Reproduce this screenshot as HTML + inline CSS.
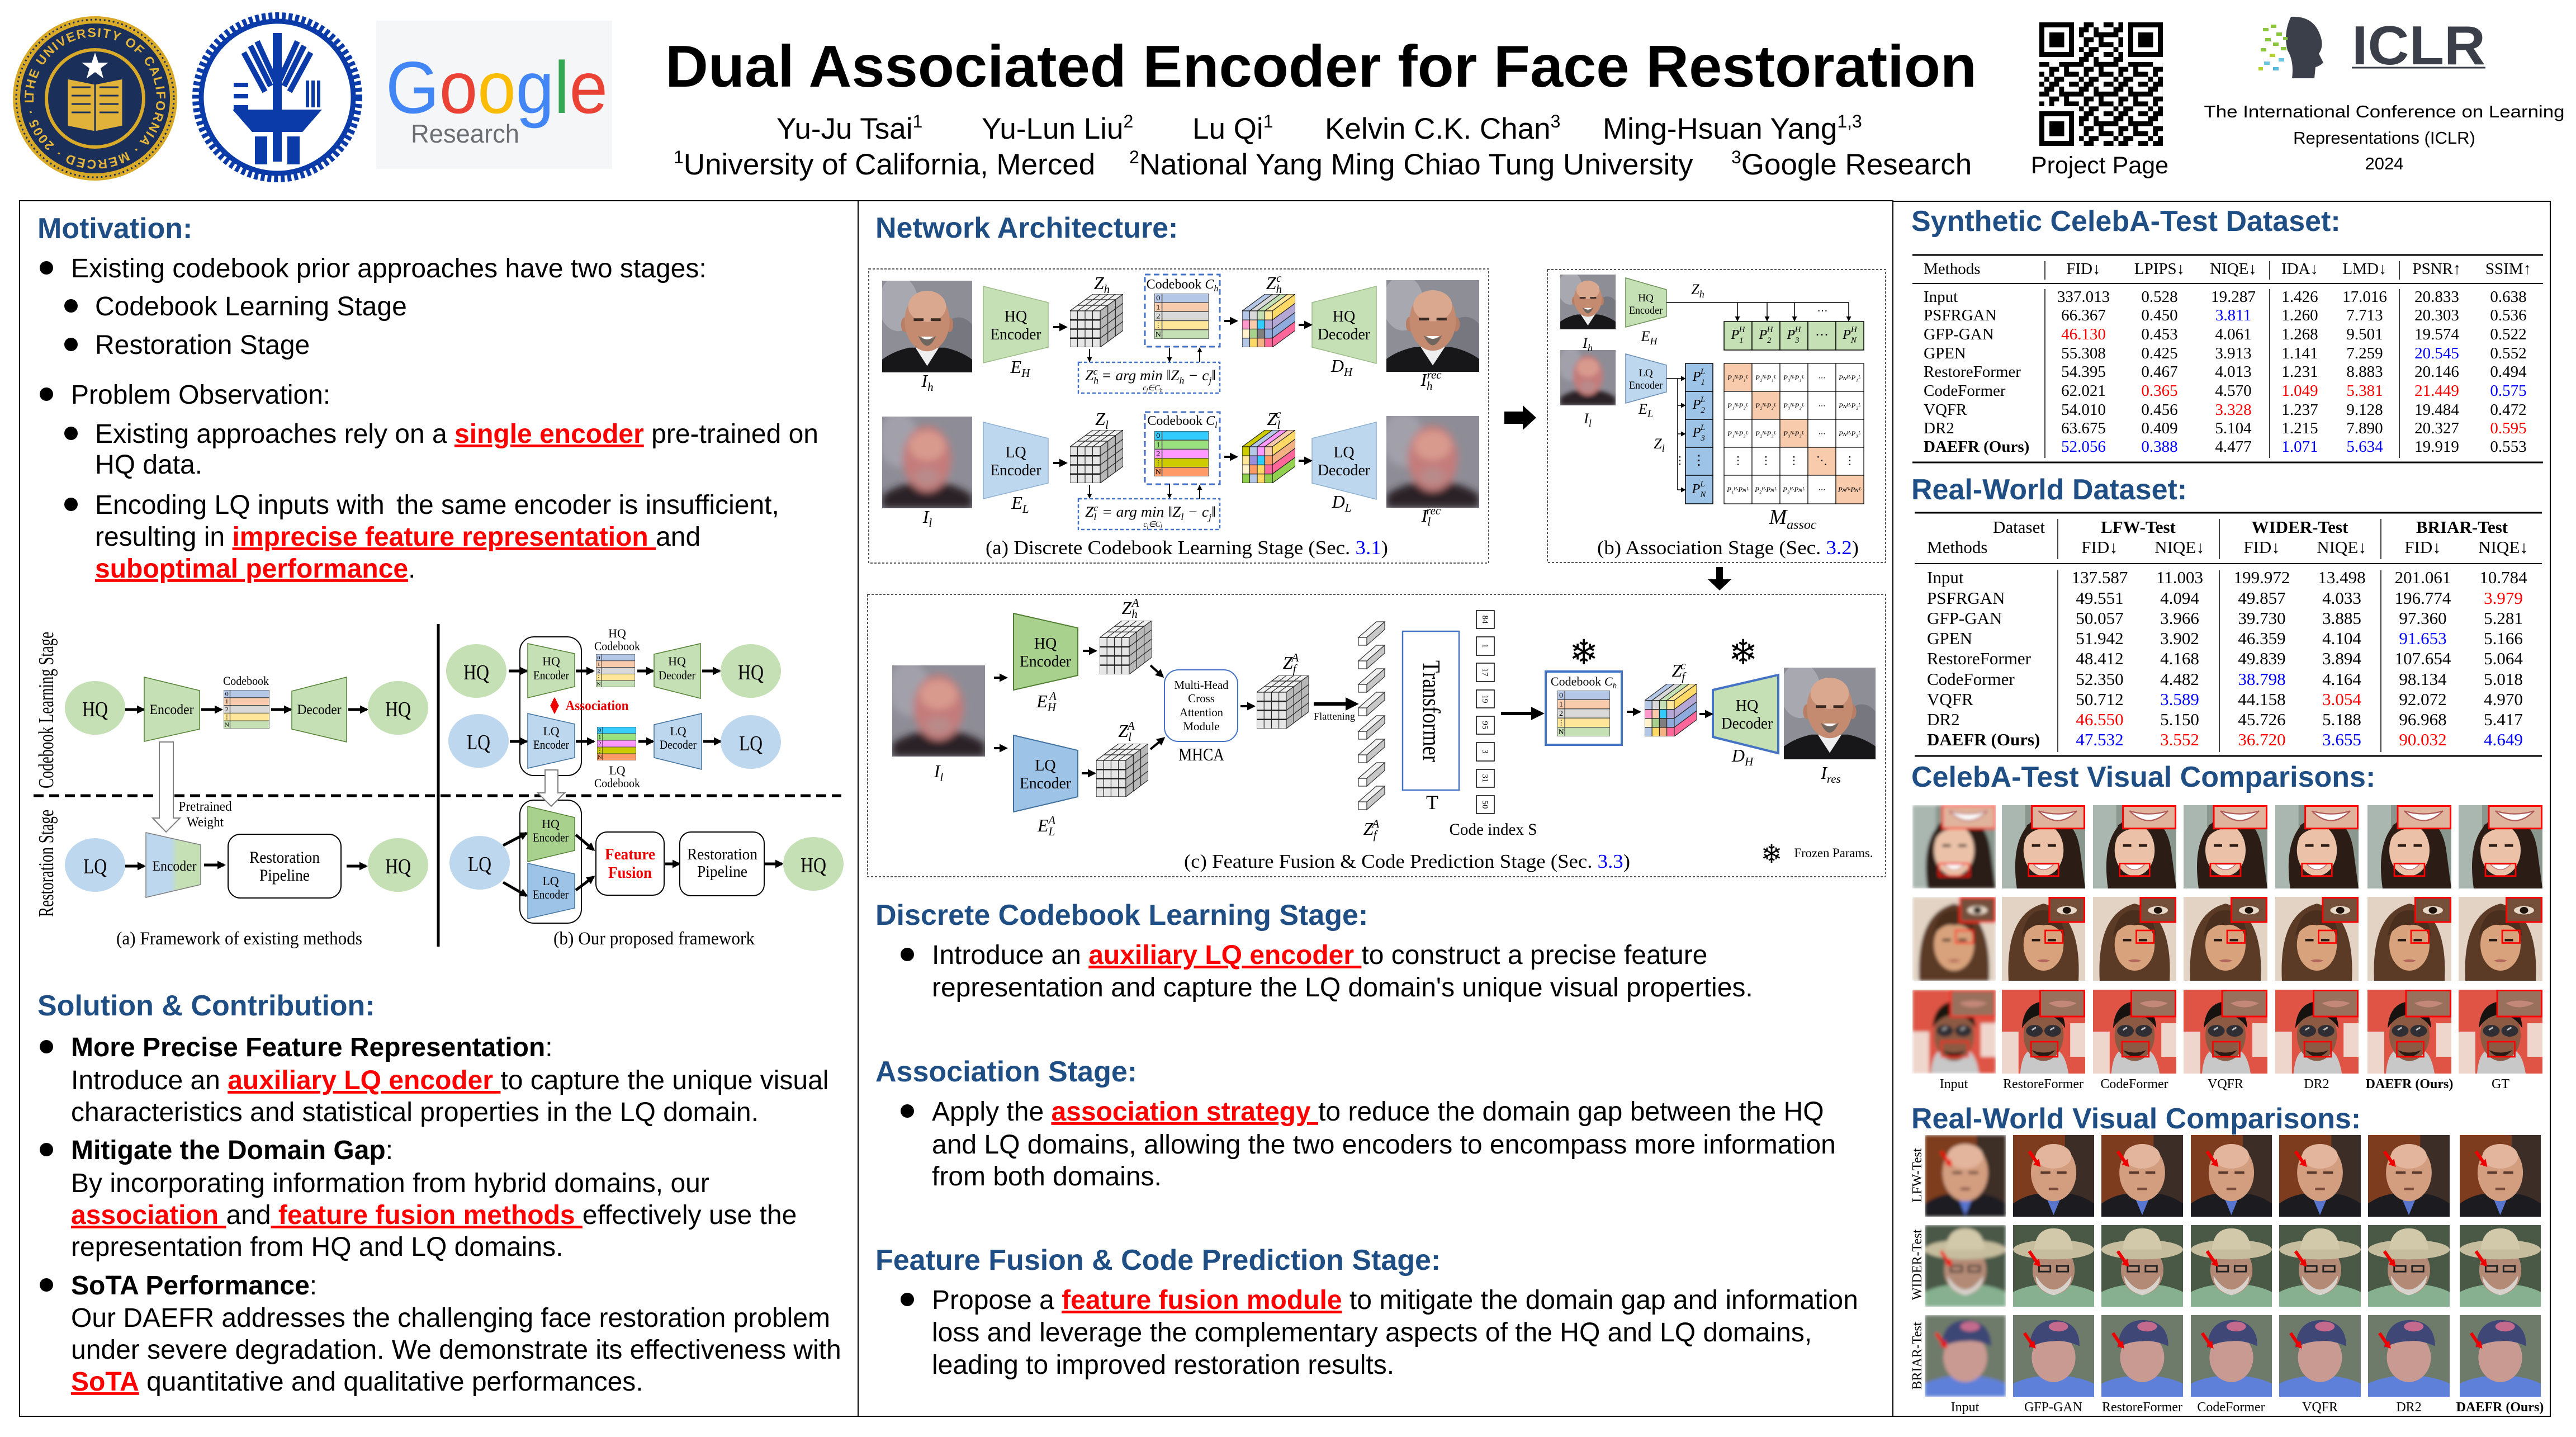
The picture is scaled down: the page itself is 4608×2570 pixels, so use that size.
<!DOCTYPE html>
<html><head><meta charset="utf-8"><style>
html,body{margin:0;padding:0;background:#fff;}
svg{display:block;}
</style></head><body>
<svg xmlns="http://www.w3.org/2000/svg" width="4608" height="2570" viewBox="0 0 4608 2570" font-family="Liberation Sans, Arial, sans-serif">
<defs>
<marker id="m" viewBox="0 0 10 10" refX="8" refY="5" markerWidth="15" markerHeight="15" markerUnits="userSpaceOnUse" orient="auto"><path d="M0 0L10 5L0 10z"/></marker>
<marker id="mb" viewBox="0 0 10 10" refX="8" refY="5" markerWidth="24" markerHeight="24" markerUnits="userSpaceOnUse" orient="auto"><path d="M0 0L10 5L0 10z"/></marker>
<marker id="ms" viewBox="0 0 10 10" refX="9" refY="5" markerWidth="9" markerHeight="9" markerUnits="userSpaceOnUse" orient="auto"><path d="M0 0L10 5L0 10z"/></marker>
<marker id="mr" viewBox="0 0 10 10" refX="8" refY="5" markerWidth="16" markerHeight="16" markerUnits="userSpaceOnUse" orient="auto-start-reverse"><path d="M0 0L10 5L0 10z" fill="#e00"/></marker>
<linearGradient id="gbg" x1="0" x2="1" y1="0" y2="0"><stop offset="0.45" stop-color="#bdd7ee"/><stop offset="0.58" stop-color="#c5e0b4"/></linearGradient>
<filter id="bl"><feGaussianBlur stdDeviation="4"/></filter>
<filter id="bl2" x="0" y="0" width="100%" height="100%"><feGaussianBlur stdDeviation="3"/></filter>

<symbol id="hq" viewBox="0 0 100 100" preserveAspectRatio="none">
<rect width="100" height="100" fill="#8d8e96"/>
<ellipse cx="18" cy="25" rx="22" ry="30" fill="#a8a9b0"/>
<ellipse cx="85" cy="70" rx="22" ry="30" fill="#76777f"/>
<path d="M0 100V86Q12 77 30 73H70Q88 77 100 86V100Z" fill="#17171a"/>
<path d="M37 73L50 93L63 73Z" fill="#eee"/>
<ellipse cx="25" cy="48" rx="4" ry="8" fill="#b97f66"/>
<ellipse cx="75" cy="48" rx="4" ry="8" fill="#b97f66"/>
<ellipse cx="50" cy="44" rx="25" ry="33" fill="#c48b71"/>
<ellipse cx="50" cy="28" rx="21" ry="17" fill="#d9a88f"/>
<path d="M35 41h11v3h-11zM54 41h11v3h-11z" fill="#3a2b24"/>
<path d="M40 60Q50 82 60 60Q50 68 40 60Z" fill="#6f6660"/>
<path d="M43 61Q50 67 57 61Z" fill="#fff"/>
</symbol>
<symbol id="lq" viewBox="0 0 100 100" preserveAspectRatio="none">
<rect width="100" height="100" fill="#8e8d97"/>
<g filter="url(#bl)">
<ellipse cx="18" cy="25" rx="22" ry="30" fill="#a2a1ab"/>
<path d="M0 100V86Q12 77 30 73H70Q88 77 100 86V100Z" fill="#2a2228"/>
<ellipse cx="50" cy="46" rx="27" ry="36" fill="#c47c7a"/>
<ellipse cx="50" cy="32" rx="20" ry="16" fill="#d99a8e"/>
<ellipse cx="50" cy="66" rx="14" ry="10" fill="#b98a8a"/>
</g>
</symbol>

<symbol id="cubeG" viewBox="0 0 95 95" preserveAspectRatio="none">
<g stroke="#222" stroke-width="1.2" fill="none">
<polygon points="0,30 41,0 95,0 54,30" fill="#f0f0f0"/>
<polygon points="54,30 95,0 95,65 54,95" fill="#b8b8b8"/>
<rect x="0" y="30" width="54" height="65" fill="#e6e6e6"/>
<path d="M13.5 30V95M27 30V95M40.5 30V95"/>
<path d="M0 46.25H54M0 62.5H54M0 78.75H54" stroke-width="2.4"/>
<path d="M13.5 30L54.5 0M27 30L68 0M40.5 30L81.5 0M13.7 20H67.7M27.3 10H81.3"/>
<path d="M67.7 20V85M81.3 10V75M54 46.25L95 16.25M54 62.5L95 32.5M54 78.75L95 48.75"/>
</g>
</symbol>
<symbol id="cubeH" viewBox="0 0 95 95" preserveAspectRatio="none">
<g stroke="#222" stroke-width="1.2">
<polygon points="0,30 13.5,30 54.5,0 41,0" fill="#b4c7e7"/>
<polygon points="13.5,30 27,30 68,0 54.5,0" fill="#d9d9d9"/>
<polygon points="27,30 40.5,30 81.5,0 68,0" fill="#c5e0b4"/>
<polygon points="40.5,30 54,30 95,0 81.5,0" fill="#ffe699"/>
<polygon points="54,30 95,0 95,16.25 54,46.25" fill="#ffd966"/>
<polygon points="54,46.25 95,16.25 95,32.5 54,62.5" fill="#b4a7d6"/>
<polygon points="54,62.5 95,32.5 95,48.75 54,78.75" fill="#8faadc"/>
<polygon points="54,78.75 95,48.75 95,65 54,95" fill="#ff6699"/>
<rect x="0" y="30" width="13.5" height="16.25" fill="#b4c7e7"/><rect x="13.5" y="30" width="13.5" height="16.25" fill="#d9d9d9"/><rect x="27" y="30" width="13.5" height="16.25" fill="#c5e0b4"/><rect x="40.5" y="30" width="13.5" height="16.25" fill="#ffe699"/>
<rect x="0" y="46.25" width="13.5" height="16.25" fill="#ff99cc"/><rect x="13.5" y="46.25" width="13.5" height="16.25" fill="#f8cbad"/><rect x="27" y="46.25" width="13.5" height="16.25" fill="#33ccff"/><rect x="40.5" y="46.25" width="13.5" height="16.25" fill="#b4a7d6"/>
<rect x="0" y="62.5" width="13.5" height="16.25" fill="#fff2cc"/><rect x="13.5" y="62.5" width="13.5" height="16.25" fill="#a9d18e"/><rect x="27" y="62.5" width="13.5" height="16.25" fill="#7f7f7f"/><rect x="40.5" y="62.5" width="13.5" height="16.25" fill="#8faadc"/>
<rect x="0" y="78.75" width="13.5" height="16.25" fill="#b4c7e7"/><rect x="13.5" y="78.75" width="13.5" height="16.25" fill="#ffd966"/><rect x="27" y="78.75" width="13.5" height="16.25" fill="#f4b183"/><rect x="40.5" y="78.75" width="13.5" height="16.25" fill="#ff6699"/>
</g>
</symbol>
<symbol id="cubeL" viewBox="0 0 95 95" preserveAspectRatio="none">
<g stroke="#222" stroke-width="1.2">
<polygon points="0,30 13.5,30 54.5,0 41,0" fill="#cccc00"/>
<polygon points="13.5,30 27,30 68,0 54.5,0" fill="#b4c7e7"/>
<polygon points="27,30 40.5,30 81.5,0 68,0" fill="#ff99ff"/>
<polygon points="40.5,30 54,30 95,0 81.5,0" fill="#f8cbad"/>
<polygon points="54,30 95,0 95,16.25 54,46.25" fill="#ffd966"/>
<polygon points="54,46.25 95,16.25 95,32.5 54,62.5" fill="#f4b183"/>
<polygon points="54,62.5 95,32.5 95,48.75 54,78.75" fill="#ff6699"/>
<polygon points="54,78.75 95,48.75 95,65 54,95" fill="#92d050"/>
<rect x="0" y="30" width="13.5" height="16.25" fill="#cccc00"/><rect x="13.5" y="30" width="13.5" height="16.25" fill="#b4c7e7"/><rect x="27" y="30" width="13.5" height="16.25" fill="#ff99ff"/><rect x="40.5" y="30" width="13.5" height="16.25" fill="#f8cbad"/>
<rect x="0" y="46.25" width="13.5" height="16.25" fill="#ffe699"/><rect x="13.5" y="46.25" width="13.5" height="16.25" fill="#9b8fe0"/><rect x="27" y="46.25" width="13.5" height="16.25" fill="#33ccff"/><rect x="40.5" y="46.25" width="13.5" height="16.25" fill="#ff9966"/>
<rect x="0" y="62.5" width="13.5" height="16.25" fill="#fff2cc"/><rect x="13.5" y="62.5" width="13.5" height="16.25" fill="#ff9966"/><rect x="27" y="62.5" width="13.5" height="16.25" fill="#ffd966"/><rect x="40.5" y="62.5" width="13.5" height="16.25" fill="#ff6699"/>
<rect x="0" y="78.75" width="13.5" height="16.25" fill="#92d050"/><rect x="13.5" y="78.75" width="13.5" height="16.25" fill="#b4c7e7"/><rect x="27" y="78.75" width="13.5" height="16.25" fill="#ffd966"/><rect x="40.5" y="78.75" width="13.5" height="16.25" fill="#92d050"/>
</g>
</symbol>
<symbol id="cbH" viewBox="0 0 100 100" preserveAspectRatio="none">
<g stroke="#404040" stroke-width="1.5">
<rect width="100" height="20" fill="#b4c7e7"/><rect y="20" width="100" height="20" fill="#f8cbad"/><rect y="40" width="100" height="20" fill="#d9d9d9"/><rect y="60" width="100" height="20" fill="#ffe699"/><rect y="80" width="100" height="20" fill="#c5e0b4"/>
<path d="M14 0V100"/></g>
<g font-family="Liberation Serif, serif" font-size="15" text-anchor="middle"><text x="7" y="15">0</text><text x="7" y="35">1</text><text x="7" y="55">2</text><text x="7" y="75">⋮</text><text x="7" y="95">N</text></g>
</symbol>
<symbol id="cbL" viewBox="0 0 100 100" preserveAspectRatio="none">
<g stroke="#404040" stroke-width="1.5">
<rect width="100" height="20" fill="#33ccff"/><rect y="20" width="100" height="20" fill="#99e07f"/><rect y="40" width="100" height="20" fill="#ff99ff"/><rect y="60" width="100" height="20" fill="#cccc00"/><rect y="80" width="100" height="20" fill="#ff9966"/>
<path d="M14 0V100"/></g>
<g font-family="Liberation Serif, serif" font-size="15" text-anchor="middle"><text x="7" y="15">0</text><text x="7" y="35">1</text><text x="7" y="55">2</text><text x="7" y="75">⋮</text><text x="7" y="95">N</text></g>
</symbol>

<symbol id="cA" viewBox="0 0 100 100" preserveAspectRatio="none">
<rect width="100" height="100" fill="#8a978e"/>
<rect width="28" height="100" fill="#aab6b0"/>
<path d="M18 100Q8 30 48 12Q88 10 94 55L100 100Z" fill="#2b1d16"/>
<ellipse cx="50" cy="54" rx="24" ry="31" fill="#ebc2a8"/>
<path d="M26 44Q36 22 70 30L74 24Q52 10 30 24Z" fill="#2b1d16"/>
<path d="M36 47h10v3H36zM55 47h10v3H55z" fill="#2b1d16"/>
<path d="M38 71Q50 84 62 71Z" fill="#fff" stroke="#c07070" stroke-width="1"/>
<rect x="36" y="1" width="63" height="27" fill="#e0b39c" stroke="#f00" stroke-width="2"/>
<path d="M44 7Q67 30 90 7Q67 14 44 7Z" fill="#fff" stroke="#b05a58" stroke-width="1.5"/>
<rect x="32" y="70" width="36" height="15" fill="none" stroke="#f00" stroke-width="1.8"/>
</symbol>
<symbol id="cB" viewBox="0 0 100 100" preserveAspectRatio="none">
<rect width="100" height="100" fill="#e2d3c4"/>
<path d="M8 100Q4 20 50 8Q96 20 92 100Z" fill="#5b3a26"/>
<ellipse cx="50" cy="57" rx="24" ry="31" fill="#d8a27c"/>
<path d="M24 47Q30 15 50 16Q72 16 76 47Q62 30 50 34Q38 30 24 47Z" fill="#4a2e1e"/>
<path d="M36 50h10v3H36zM55 50h10v3H55z" fill="#2a1a12"/>
<path d="M42 76Q50 80 58 76Q50 73 42 76Z" fill="#b0665a"/>
<rect x="57" y="1" width="42" height="29" fill="#74503a" stroke="#f00" stroke-width="2"/>
<ellipse cx="78" cy="16" rx="12" ry="5" fill="#e8d8c8"/><ellipse cx="78" cy="16" rx="5" ry="4" fill="#1e120c"/>
<rect x="52" y="40" width="21" height="15" fill="none" stroke="#f00" stroke-width="1.8"/>
</symbol>
<symbol id="cC" viewBox="0 0 100 100" preserveAspectRatio="none">
<rect width="100" height="100" fill="#df5444"/>
<path d="M0 50H20V100H0zM82 40H100V80H82z" fill="#efd6cc"/>
<path d="M22 100Q24 76 34 72H66Q76 76 80 100Z" fill="#c8c8c8"/>
<ellipse cx="50" cy="54" rx="24" ry="31" fill="#8c5a42"/>
<path d="M24 46Q26 16 50 14Q74 16 76 46Q66 30 50 30Q34 30 24 46Z" fill="#151210"/>
<ellipse cx="39" cy="49" rx="10" ry="7" fill="#2e2e34"/><ellipse cx="61" cy="49" rx="10" ry="7" fill="#2e2e34"/>
<path d="M36 48l5-3M58 48l5-3" stroke="#bbb" stroke-width="2"/>
<path d="M36 72Q50 88 64 72Q50 78 36 72Z" fill="#2a1a14"/>
<rect x="46" y="1" width="53" height="31" fill="#98705c" stroke="#f00" stroke-width="2"/>
<path d="M56 16Q72 26 90 16Q72 10 56 16Z" fill="#c48878"/>
<rect x="35" y="62" width="32" height="18" fill="none" stroke="#f00" stroke-width="1.8"/>
</symbol>
<symbol id="rA" viewBox="0 0 100 100" preserveAspectRatio="none">
<rect width="100" height="100" fill="#7e3c1e"/>
<rect x="64" width="36" height="100" fill="#3c2d26"/>
<path d="M0 100V84Q14 74 30 72H70Q86 74 100 84V100Z" fill="#1c1c20"/>
<path d="M40 74L50 98L60 74Z" fill="#5876cf"/>
<ellipse cx="50" cy="46" rx="28" ry="35" fill="#d39d80"/>
<ellipse cx="50" cy="26" rx="22" ry="15" fill="#e3b59c"/>
<path d="M34 46h12M54 46h12" stroke="#5a3a2c" stroke-width="3"/>
<path d="M44 66h12" stroke="#7a4a3a" stroke-width="3"/>
<path d="M20 20L29 33" stroke="#e00" stroke-width="4"/><path d="M25 36L34 39L32 29Z" fill="#e00"/>
</symbol>
<symbol id="rB" viewBox="0 0 100 100" preserveAspectRatio="none">
<rect width="100" height="100" fill="#4a5846"/>
<path d="M0 100V82Q20 72 50 72Q80 72 100 82V100Z" fill="#86b090"/>
<ellipse cx="50" cy="55" rx="26" ry="30" fill="#b38a76"/>
<path d="M28 62Q50 96 72 62Q72 80 50 86Q28 80 28 62Z" fill="#d8d2cc"/>
<path d="M32 50h14v7H32zM54 50h14v7H54z" fill="none" stroke="#222" stroke-width="2"/>
<ellipse cx="50" cy="30" rx="50" ry="12" fill="#c6bd9e"/>
<path d="M26 30Q28 4 50 4Q72 4 74 30Z" fill="#d2c9aa"/>
<path d="M20 32L29 45" stroke="#e00" stroke-width="4"/><path d="M25 48L34 51L32 41Z" fill="#e00"/>
</symbol>
<symbol id="rC" viewBox="0 0 100 100" preserveAspectRatio="none">
<rect width="100" height="100" fill="#6e7a6a"/>
<path d="M0 100V84Q20 74 50 74Q80 74 100 84V100Z" fill="#5f80d8"/>
<ellipse cx="50" cy="52" rx="27" ry="30" fill="#c99a92"/>
<path d="M20 40Q22 6 52 6Q82 8 82 38Q64 30 50 32Q34 32 20 40Z" fill="#3e4775"/>
<ellipse cx="56" cy="14" rx="12" ry="6" fill="#c46a8c"/>
<path d="M14 22L23 35" stroke="#e00" stroke-width="4"/><path d="M19 38L28 41L26 31Z" fill="#e00"/>
</symbol>
<g id="tok" stroke="#333" stroke-width="1.2">
<rect x="2430" y="1140" width="15" height="14" fill="#fff"/>
<polygon points="2430,1140 2462,1112 2477,1112 2445,1140" fill="#f2f2f2"/>
<polygon points="2445,1140 2477,1112 2477,1126 2445,1154" fill="#c8c8c8"/>
</g>
<pattern id="qr" patternUnits="userSpaceOnUse" x="3648" y="40" width="61.88" height="53.04">
<path transform="scale(8.84)" d="M0 0h1v1h-1zM2 0h2v1h-2zM6 0h1v1h-1zM1 1h2v1h-2zM4 1h1v1h-1zM0 2h2v1h-2zM4 2h3v1h-3zM2 3h2v1h-2zM5 3h1v1h-1zM0 4h1v1h-1zM2 4h1v1h-1zM5 4h2v1h-2zM1 5h1v1h-1zM3 5h2v1h-2z"/>
</pattern>
</defs>

<!-- ================= HEADER ================= -->
<g transform="translate(170,176)">
<circle r="147" fill="#d9a928"/>
<circle r="141" fill="none" stroke="#1b2f5b" stroke-width="3" stroke-dasharray="3 5"/>
<circle r="134" fill="#1b2f5b"/>
<circle r="90" fill="#d9a928"/>
<circle r="84" fill="#1b2f5b"/>
<path d="M-50 -36 L0 -26 L50 -36 L50 50 L0 60 L-50 50Z" fill="#e0b23a" stroke="#1b2f5b" stroke-width="3"/>
<path d="M0 -26V60M-42 -20H-8M-42 -5H-8M-42 10H-8M-42 25H-8M8 -20H42M8 -5H42M8 10H42M8 25H42" stroke="#1b2f5b" stroke-width="3"/>
<polygon points="0,-82 6,-64 24,-64 10,-54 15,-36 0,-47 -15,-36 -10,-54 -24,-64 -6,-64" fill="#fff"/>
<path id="sealtxt" d="M-110 0A110 110 0 1 1 110 0A110 110 0 1 1 -110 0" fill="none"/>
<text font-size="23" font-weight="bold" fill="#e3b53a" letter-spacing="2"><textPath href="#sealtxt">THE UNIVERSITY OF CALIFORNIA · MERCED · 2005 · LET THERE BE LIGHT</textPath></text>
</g>
<g transform="translate(496,174)">
<circle r="146" fill="none" stroke="#0b3ba8" stroke-width="12" stroke-dasharray="7 5"/>
<circle r="136" fill="#fff" stroke="#0b3ba8" stroke-width="9"/>
<path d="M-60 -80L-22 -10M-48 -92L-12 -20M-36 -100L-4 -30M60 -80L22 -10M48 -92L12 -20M36 -100L4 -30" stroke="#0b3ba8" stroke-width="10"/>
<rect x="-8" y="-115" width="16" height="230" fill="#0b3ba8"/>
<path d="M-80 22H80L45 62H-45Z" fill="#0b3ba8"/>
<rect x="-40" y="70" width="22" height="50" fill="#0b3ba8"/><rect x="18" y="70" width="22" height="50" fill="#0b3ba8"/>
<path d="M-78 -26h26v8h-26zM-78 -6h26v8h-26zM-78 14h26v8h-26z" fill="#0b3ba8"/>
<path d="M54 -30v48M64 -30v48M74 -30v48" stroke="#0b3ba8" stroke-width="6"/>
</g>
<rect x="673" y="37" width="422" height="265" fill="#f5f6f8"/>
<text x="690" y="202" font-size="132" textLength="397" lengthAdjust="spacingAndGlyphs"><tspan fill="#4285f4">G</tspan><tspan fill="#ea4335">o</tspan><tspan fill="#fbbc05">o</tspan><tspan fill="#4285f4">g</tspan><tspan fill="#34a853">l</tspan><tspan fill="#ea4335">e</tspan></text>
<text x="735" y="255" font-size="46" fill="#6b6e73" textLength="194" lengthAdjust="spacingAndGlyphs">Research</text>

<text x="1190" y="155" font-size="106" font-weight="bold" textLength="2346" lengthAdjust="spacingAndGlyphs">Dual Associated Encoder for Face Restoration</text>
<g font-size="53">
<text x="1389" y="248">Yu-Ju Tsai<tspan font-size="32" dy="-20">1</tspan></text>
<text x="1756" y="248">Yu-Lun Liu<tspan font-size="32" dy="-20">2</tspan></text>
<text x="2133" y="248">Lu Qi<tspan font-size="32" dy="-20">1</tspan></text>
<text x="2370" y="248">Kelvin C.K. Chan<tspan font-size="32" dy="-20">3</tspan></text>
<text x="2867" y="248">Ming-Hsuan Yang<tspan font-size="32" dy="-20">1,3</tspan></text>
<text x="1205" y="312"><tspan font-size="32" dy="-20">1</tspan><tspan dy="20">University of California, Merced</tspan></text>
<text x="2020" y="312"><tspan font-size="32" dy="-20">2</tspan><tspan dy="20">National Yang Ming Chiao Tung University</tspan></text>
<text x="3097" y="312"><tspan font-size="32" dy="-20">3</tspan><tspan dy="20">Google Research</tspan></text>
</g>
<rect x="3648" y="40" width="221" height="221" fill="url(#qr)"/>
<g>
<rect x="3648" y="40" width="71" height="71" fill="#fff"/><rect x="3648" y="40" width="62" height="62"/><rect x="3657" y="49" width="44" height="44" fill="#fff"/><rect x="3666" y="58" width="26.5" height="26.5"/>
<rect x="3798" y="40" width="71" height="71" fill="#fff"/><rect x="3807" y="40" width="62" height="62"/><rect x="3816" y="49" width="44" height="44" fill="#fff"/><rect x="3825" y="58" width="26.5" height="26.5"/>
<rect x="3648" y="190" width="71" height="71" fill="#fff"/><rect x="3648" y="199" width="62" height="62"/><rect x="3657" y="208" width="44" height="44" fill="#fff"/><rect x="3666" y="217" width="26.5" height="26.5"/>
</g>
<text x="3756" y="310" font-size="43" text-anchor="middle">Project Page</text>
<path d="M4098 30Q4138 28 4150 62Q4158 82 4148 96L4156 112Q4150 118 4142 120L4140 140L4100 140Q4104 110 4092 90Q4084 60 4098 30Z" fill="#3b3f4a"/>
<g fill="#8dc63f"><rect x="4048" y="50" width="10" height="6"/><rect x="4062" y="44" width="10" height="6"/><rect x="4072" y="58" width="10" height="6"/><rect x="4052" y="68" width="10" height="6"/><rect x="4066" y="76" width="10" height="6"/><rect x="4080" y="84" width="10" height="6"/><rect x="4044" y="86" width="10" height="6"/><rect x="4060" y="96" width="10" height="6" fill="#b5d334"/><rect x="4076" y="104" width="10" height="6" fill="#6fc6e0"/><rect x="4050" y="110" width="10" height="6" fill="#6fc6e0"/><rect x="4066" y="120" width="10" height="6" fill="#5ab6d8"/><rect x="4084" y="66" width="8" height="6"/><rect x="4040" y="120" width="8" height="6" fill="#b5d334"/></g>
<text x="4207" y="115" font-size="98" font-weight="bold" fill="#3a3f4a" textLength="239" lengthAdjust="spacingAndGlyphs">ICLR</text>
<line x1="4207" y1="121" x2="4446" y2="121" stroke="#3a3f4a" stroke-width="3"/>
<g font-size="31" text-anchor="middle">
<text x="4265" y="210" textLength="645" lengthAdjust="spacingAndGlyphs">The International Conference on Learning</text>
<text x="4265" y="257">Representations (ICLR)</text>
<text x="4265" y="303">2024</text>
</g>

<!-- ================= PANELS ================= -->
<g fill="none" stroke="#000" stroke-width="2">
<rect x="35" y="359" width="1500" height="2174"/>
<rect x="1535" y="359" width="1851" height="2174"/>
<rect x="3386" y="360" width="1176" height="2173"/>
</g>

<!-- ================= HEADINGS ================= -->
<g font-size="52" font-weight="bold" fill="#1f4e85">
<text x="67" y="426">Motivation:</text>
<text x="67" y="1816">Solution &amp; Contribution:</text>
<text x="1566" y="425">Network Architecture:</text>
<text x="1566" y="1654">Discrete Codebook Learning Stage:</text>
<text x="1566" y="1934">Association Stage:</text>
<text x="1566" y="2271">Feature Fusion &amp; Code Prediction Stage:</text>
<text x="3419" y="413">Synthetic CelebA-Test Dataset:</text>
<text x="3419" y="893">Real-World Dataset:</text>
<text x="3419" y="1407">CelebA-Test Visual Comparisons:</text>
<text x="3419" y="2018">Real-World Visual Comparisons:</text>
</g>
<g fill="#000">
<circle cx="83" cy="479" r="12"/><circle cx="127" cy="547" r="12"/><circle cx="127" cy="616" r="12"/>
<circle cx="83" cy="705" r="12"/><circle cx="127" cy="775" r="12"/><circle cx="127" cy="902" r="12"/>
<circle cx="83" cy="1872" r="12"/><circle cx="83" cy="2056" r="12"/><circle cx="83" cy="2298" r="12"/>
<circle cx="1623" cy="1707" r="12"/><circle cx="1623" cy="1987" r="12"/><circle cx="1623" cy="2324" r="12"/>
</g>
<g font-size="48">
<text x="127" y="496">Existing codebook prior approaches have two stages:</text>
<text x="170" y="564">Codebook Learning Stage</text>
<text x="170" y="633">Restoration Stage</text>
<text x="127" y="722">Problem Observation:</text>
<text x="170" y="792">Existing approaches rely on a <tspan fill="#f00" font-weight="bold" text-decoration="underline">single encoder</tspan> pre-trained on</text>
<text x="170" y="847">HQ data.</text>
<text x="170" y="919">Encoding LQ inputs with <tspan dx="8">the same encoder is insufficient,</tspan></text>
<text x="170" y="976">resulting in <tspan fill="#f00" font-weight="bold" text-decoration="underline">imprecise feature representation </tspan>and</text>
<text x="170" y="1033"><tspan fill="#f00" font-weight="bold" text-decoration="underline">suboptimal performance</tspan>.</text>

<text x="127" y="1889"><tspan font-weight="bold">More Precise Feature Representation</tspan>:</text>
<text x="127" y="1948">Introduce an <tspan fill="#f00" font-weight="bold" text-decoration="underline">auxiliary LQ encoder </tspan>to capture the unique visual</text>
<text x="127" y="2005">characteristics and statistical properties in the LQ domain.</text>
<text x="127" y="2073"><tspan font-weight="bold">Mitigate the Domain Gap</tspan>:</text>
<text x="127" y="2132">By incorporating information from hybrid domains, our</text>
<text x="127" y="2189"><tspan fill="#f00" font-weight="bold" text-decoration="underline">association </tspan>and<tspan fill="#f00" font-weight="bold" text-decoration="underline"> feature fusion methods </tspan>effectively use the</text>
<text x="127" y="2246">representation from HQ and LQ domains.</text>
<text x="127" y="2315"><tspan font-weight="bold">SoTA Performance</tspan>:</text>
<text x="127" y="2373">Our DAEFR addresses the challenging face restoration problem</text>
<text x="127" y="2430">under severe degradation. We demonstrate its effectiveness with</text>
<text x="127" y="2487"><tspan fill="#f00" font-weight="bold" text-decoration="underline">SoTA</tspan> quantitative and qualitative performances.</text>

<text x="1667" y="1724">Introduce an <tspan fill="#f00" font-weight="bold" text-decoration="underline">auxiliary LQ encoder </tspan>to construct a precise feature</text>
<text x="1667" y="1782">representation and capture the LQ domain's unique visual properties.</text>
<text x="1667" y="2004">Apply the <tspan fill="#f00" font-weight="bold" text-decoration="underline">association strategy </tspan>to reduce the domain gap between the HQ</text>
<text x="1667" y="2063">and LQ domains, allowing the two encoders to encompass more information</text>
<text x="1667" y="2120">from both domains.</text>
<text x="1667" y="2341">Propose a <tspan fill="#f00" font-weight="bold" text-decoration="underline">feature fusion module</tspan> to mitigate the domain gap and information</text>
<text x="1667" y="2399">loss and leverage the complementary aspects of the HQ and LQ domains,</text>
<text x="1667" y="2457">leading to improved restoration results.</text>
</g>

<!-- ================= LEFT FRAMEWORK DIAGRAM ================= -->
<g font-family="Liberation Serif, serif">
<text transform="translate(95,1270) rotate(-90)" text-anchor="middle" font-size="38" textLength="280" lengthAdjust="spacingAndGlyphs">Codebook Learning Stage</text>
<text transform="translate(95,1544) rotate(-90)" text-anchor="middle" font-size="38" textLength="192" lengthAdjust="spacingAndGlyphs">Restoration Stage</text>
<line x1="60" y1="1423" x2="1505" y2="1423" stroke="#000" stroke-width="5" stroke-dasharray="18 10"/>
<line x1="784" y1="1116" x2="784" y2="1693" stroke="#000" stroke-width="5"/>
<g stroke="#000" stroke-width="5" marker-end="url(#m)">
<line x1="224" y1="1269" x2="257" y2="1269"/><line x1="360" y1="1269" x2="396" y2="1269"/><line x1="485" y1="1269" x2="520" y2="1269"/><line x1="623" y1="1269" x2="656" y2="1269"/>
<line x1="224" y1="1549" x2="258" y2="1549"/><line x1="365" y1="1547" x2="401" y2="1547"/><line x1="620" y1="1549" x2="655" y2="1549"/>
<line x1="910" y1="1200" x2="942" y2="1200"/><line x1="1030" y1="1200" x2="1061" y2="1200"/><line x1="1140" y1="1200" x2="1168" y2="1200"/><line x1="1256" y1="1200" x2="1287" y2="1200"/>
<line x1="912" y1="1326" x2="942" y2="1326"/><line x1="1030" y1="1326" x2="1062" y2="1326"/><line x1="1142" y1="1326" x2="1168" y2="1326"/><line x1="1258" y1="1326" x2="1289" y2="1326"/>
<line x1="900" y1="1512" x2="942" y2="1490"/><line x1="900" y1="1578" x2="942" y2="1602"/><line x1="1030" y1="1493" x2="1062" y2="1520"/><line x1="1030" y1="1592" x2="1062" y2="1568"/>
<line x1="1190" y1="1545" x2="1215" y2="1545"/><line x1="1368" y1="1545" x2="1399" y2="1545"/>
</g>
<g font-size="38" text-anchor="middle">
<ellipse cx="170" cy="1266" rx="54" ry="48" fill="#c5e0b4"/><text x="170" y="1281" textLength="46" lengthAdjust="spacingAndGlyphs">HQ</text>
<ellipse cx="712" cy="1266" rx="54" ry="48" fill="#c5e0b4"/><text x="712" y="1281" textLength="46" lengthAdjust="spacingAndGlyphs">HQ</text>
<ellipse cx="170" cy="1547" rx="54" ry="48" fill="#bdd7ee"/><text x="170" y="1562" textLength="42" lengthAdjust="spacingAndGlyphs">LQ</text>
<ellipse cx="712" cy="1547" rx="54" ry="48" fill="#c5e0b4"/><text x="712" y="1562" textLength="46" lengthAdjust="spacingAndGlyphs">HQ</text>
<ellipse cx="852" cy="1200" rx="54" ry="48" fill="#c5e0b4"/><text x="852" y="1215" textLength="46" lengthAdjust="spacingAndGlyphs">HQ</text>
<ellipse cx="1343" cy="1200" rx="54" ry="48" fill="#c5e0b4"/><text x="1343" y="1215" textLength="46" lengthAdjust="spacingAndGlyphs">HQ</text>
<ellipse cx="856" cy="1325" rx="54" ry="48" fill="#bdd7ee"/><text x="856" y="1340" textLength="42" lengthAdjust="spacingAndGlyphs">LQ</text>
<ellipse cx="1343" cy="1327" rx="54" ry="48" fill="#bdd7ee"/><text x="1343" y="1342" textLength="42" lengthAdjust="spacingAndGlyphs">LQ</text>
<ellipse cx="858" cy="1543" rx="54" ry="48" fill="#bdd7ee"/><text x="858" y="1558" textLength="42" lengthAdjust="spacingAndGlyphs">LQ</text>
<ellipse cx="1455" cy="1545" rx="54" ry="48" fill="#c5e0b4"/><text x="1455" y="1560" textLength="46" lengthAdjust="spacingAndGlyphs">HQ</text>
</g>
<polygon points="258,1211 357,1235 357,1304 258,1326" fill="#c5e0b4" stroke="#548235" stroke-width="1.5"/>
<polygon points="522,1236 620,1211 620,1327 522,1304" fill="#c5e0b4" stroke="#548235" stroke-width="1.5"/>
<polygon points="261,1489 359,1511 359,1582 261,1605" fill="url(#gbg)" stroke="#7f7f7f" stroke-width="1.5"/>
<use href="#cbH" x="400" y="1234" width="82" height="69"/>
<path d="M285 1327H310V1463H322L297 1488L273 1463H285Z" fill="#fff" stroke="#7f7f7f" stroke-width="2"/>
<rect x="408" y="1492" width="202" height="114" rx="22" fill="#fff" stroke="#000" stroke-width="2"/>
<rect x="930" y="1139" width="110" height="248" rx="25" fill="none" stroke="#000" stroke-width="2"/>
<rect x="930" y="1431" width="110" height="220" rx="25" fill="none" stroke="#000" stroke-width="2"/>
<polygon points="944,1151 1028,1169 1028,1228 944,1248" fill="#c5e0b4" stroke="#548235" stroke-width="1.5"/>
<polygon points="1170,1170 1253,1151 1253,1249 1170,1228" fill="#c5e0b4" stroke="#548235" stroke-width="1.5"/>
<polygon points="944,1276 1028,1295 1028,1355 944,1374" fill="#bdd7ee" stroke="#41719c" stroke-width="1.5"/>
<polygon points="1170,1296 1255,1276 1255,1376 1170,1355" fill="#bdd7ee" stroke="#41719c" stroke-width="1.5"/>
<polygon points="944,1442 1028,1462 1028,1521 944,1541" fill="#a9d18e" stroke="#548235" stroke-width="1.5"/>
<polygon points="944,1544 1028,1563 1028,1624 944,1643" fill="#9dc3e6" stroke="#41719c" stroke-width="1.5"/>
<use href="#cbH" x="1066" y="1170" width="70" height="59"/>
<use href="#cbL" x="1068" y="1300" width="70" height="60"/>
<path d="M975 1377H998V1418H1010L986 1442L962 1418H975Z" fill="#fff" stroke="#7f7f7f" stroke-width="2"/>
<line x1="992" y1="1250" x2="992" y2="1274" stroke="#e00" stroke-width="5" marker-start="url(#mr)" marker-end="url(#mr)"/>
<rect x="1066" y="1488" width="122" height="113" rx="20" fill="#fff" stroke="#000" stroke-width="2"/>
<rect x="1216" y="1488" width="151" height="114" rx="20" fill="#fff" stroke="#000" stroke-width="2"/>
<g text-anchor="middle" font-size="25">
<text x="307" y="1277" textLength="79" lengthAdjust="spacingAndGlyphs">Encoder</text>
<text x="571" y="1277" textLength="79" lengthAdjust="spacingAndGlyphs">Decoder</text>
<text x="312" y="1557" textLength="79" lengthAdjust="spacingAndGlyphs">Encoder</text>
<text x="440" y="1225" font-size="22" textLength="82" lengthAdjust="spacingAndGlyphs">Codebook</text>
<text x="367" y="1450" font-size="24" textLength="95" lengthAdjust="spacingAndGlyphs">Pretrained</text>
<text x="367" y="1478" font-size="24" textLength="66" lengthAdjust="spacingAndGlyphs">Weight</text>
<text x="509" y="1543" font-size="30" textLength="126" lengthAdjust="spacingAndGlyphs">Restoration</text>
<text x="509" y="1575" font-size="30" textLength="90" lengthAdjust="spacingAndGlyphs">Pipeline</text>
<text x="428" y="1689" font-size="33" textLength="440" lengthAdjust="spacingAndGlyphs">(a) Framework of existing methods</text>
<text x="986" y="1190" font-size="22">HQ</text><text x="986" y="1215" font-size="22" textLength="64" lengthAdjust="spacingAndGlyphs">Encoder</text>
<text x="1211" y="1190" font-size="22">HQ</text><text x="1211" y="1215" font-size="22" textLength="66" lengthAdjust="spacingAndGlyphs">Decoder</text>
<text x="986" y="1315" font-size="22">LQ</text><text x="986" y="1339" font-size="22" textLength="64" lengthAdjust="spacingAndGlyphs">Encoder</text>
<text x="1213" y="1315" font-size="22">LQ</text><text x="1213" y="1339" font-size="22" textLength="66" lengthAdjust="spacingAndGlyphs">Decoder</text>
<text x="985" y="1481" font-size="22">HQ</text><text x="985" y="1505" font-size="22" textLength="64" lengthAdjust="spacingAndGlyphs">Encoder</text>
<text x="985" y="1583" font-size="22">LQ</text><text x="985" y="1607" font-size="22" textLength="64" lengthAdjust="spacingAndGlyphs">Encoder</text>
<text x="1104" y="1140" font-size="22">HQ</text><text x="1104" y="1163" font-size="22" textLength="82" lengthAdjust="spacingAndGlyphs">Codebook</text>
<text x="1104" y="1385" font-size="22">LQ</text><text x="1104" y="1408" font-size="22" textLength="82" lengthAdjust="spacingAndGlyphs">Codebook</text>
<text x="1068" y="1270" font-size="25" font-weight="bold" fill="#e00" textLength="113" lengthAdjust="spacingAndGlyphs">Association</text>
<text x="1127" y="1537" font-size="28" font-weight="bold" fill="#e00" textLength="90" lengthAdjust="spacingAndGlyphs">Feature</text>
<text x="1127" y="1570" font-size="28" font-weight="bold" fill="#e00" textLength="78" lengthAdjust="spacingAndGlyphs">Fusion</text>
<text x="1292" y="1537" font-size="28" textLength="126" lengthAdjust="spacingAndGlyphs">Restoration</text>
<text x="1292" y="1568" font-size="28" textLength="90" lengthAdjust="spacingAndGlyphs">Pipeline</text>
<text x="1170" y="1689" font-size="33" textLength="360" lengthAdjust="spacingAndGlyphs">(b) Our proposed framework</text>
</g>
</g>

<!-- ================= NETWORK ARCHITECTURE ================= -->
<g font-family="Liberation Serif, serif">
<rect x="1554" y="481" width="1109" height="526" fill="none" stroke="#555" stroke-width="2" stroke-dasharray="4 3"/>
<rect x="2768" y="482" width="605" height="524" fill="none" stroke="#555" stroke-width="2" stroke-dasharray="4 3"/>
<rect x="1552" y="1063" width="1821" height="505" fill="none" stroke="#555" stroke-width="2" stroke-dasharray="4 3"/>
<polygon points="2691,736 2724,736 2724,725 2748,747 2724,769 2724,758 2691,758"/>
<polygon points="3070,1014 3082,1014 3082,1036 3097,1036 3076,1056 3055,1036 3070,1036"/>

<use href="#hq" x="1578" y="502" width="161" height="164"/>
<polygon points="1759,512 1875,541 1875,621 1759,649" fill="#c5e0b4" stroke="#9dbb88" stroke-width="1.5"/>
<use href="#cubeG" x="1914" y="526" width="95" height="95"/>
<rect x="2048" y="491" width="134" height="129" fill="none" stroke="#4472c4" stroke-width="3" stroke-dasharray="10 6"/>
<use href="#cbH" x="2065" y="525" width="97" height="81"/>
<use href="#cubeH" x="2222" y="526" width="95" height="95"/>
<polygon points="2347,541 2462,512 2462,650 2347,621" fill="#c5e0b4" stroke="#9dbb88" stroke-width="1.5"/>
<use href="#hq" x="2480" y="501" width="166" height="164"/>
<rect x="1929" y="648" width="253" height="55" fill="none" stroke="#4472c4" stroke-width="2.5" stroke-dasharray="6 4"/>
<use href="#lq" x="1578" y="745" width="161" height="164"/>
<polygon points="1759,755 1875,784 1875,864 1759,892" fill="#bdd7ee" stroke="#8fb0d0" stroke-width="1.5"/>
<use href="#cubeG" x="1914" y="769" width="95" height="95"/>
<rect x="2048" y="737" width="134" height="129" fill="none" stroke="#4472c4" stroke-width="3" stroke-dasharray="10 6"/>
<use href="#cbL" x="2065" y="771" width="97" height="81"/>
<use href="#cubeL" x="2222" y="769" width="95" height="95"/>
<polygon points="2347,784 2462,755 2462,893 2347,864" fill="#bdd7ee" stroke="#8fb0d0" stroke-width="1.5"/>
<use href="#lq" x="2480" y="744" width="166" height="164"/>
<rect x="1929" y="892" width="253" height="55" fill="none" stroke="#4472c4" stroke-width="2.5" stroke-dasharray="6 4"/>
<g stroke="#000" stroke-width="4" marker-end="url(#m)">
<line x1="1884" y1="585" x2="1907" y2="585"/><line x1="2190" y1="574" x2="2212" y2="574"/><line x1="2323" y1="581" x2="2345" y2="581"/>
<line x1="1884" y1="828" x2="1907" y2="828"/><line x1="2190" y1="817" x2="2212" y2="817"/><line x1="2323" y1="824" x2="2345" y2="824"/>
</g>
<g stroke="#000" stroke-width="2" marker-end="url(#ms)">
<line x1="1949" y1="624" x2="1949" y2="647"/><line x1="2092" y1="623" x2="2092" y2="647"/><line x1="2146" y1="648" x2="2146" y2="622"/>
<line x1="1949" y1="867" x2="1949" y2="891"/><line x1="2092" y1="866" x2="2092" y2="891"/><line x1="2146" y1="892" x2="2146" y2="868"/>
</g>
<g font-size="28" text-anchor="middle">
<text x="1817" y="575">HQ</text><text x="1817" y="607" textLength="91" lengthAdjust="spacingAndGlyphs">Encoder</text>
<text x="2404" y="575">HQ</text><text x="2404" y="607" textLength="94" lengthAdjust="spacingAndGlyphs">Decoder</text>
<text x="1817" y="818">LQ</text><text x="1817" y="850" textLength="91" lengthAdjust="spacingAndGlyphs">Encoder</text>
<text x="2404" y="818">LQ</text><text x="2404" y="850" textLength="94" lengthAdjust="spacingAndGlyphs">Decoder</text>
<text x="2115" y="516" font-size="24">Codebook <tspan font-style="italic">C</tspan><tspan font-size="16" dy="5" font-style="italic">h</tspan></text>
<text x="2115" y="760" font-size="24">Codebook <tspan font-style="italic">C</tspan><tspan font-size="16" dy="5" font-style="italic">l</tspan></text>
</g>
<g font-size="32" font-style="italic" text-anchor="middle">
<text x="1659" y="692">I<tspan font-size="21" dy="7">h</tspan></text>
<text x="1825" y="667">E<tspan font-size="21" dy="7">H</tspan></text>
<text x="1971" y="517">Z<tspan font-size="21" dy="7">h</tspan></text>
<text x="2279" y="517">Z<tspan font-size="21" dy="7">h</tspan><tspan font-size="21" dx="-10" dy="-20">c</tspan></text>
<text x="2400" y="665">D<tspan font-size="21" dy="7">H</tspan></text>
<text x="2560" y="690">I<tspan font-size="21" dy="7">h</tspan><tspan font-size="21" dx="-10" dy="-20">rec</tspan></text>
<text x="1659" y="935">I<tspan font-size="21" dy="7">l</tspan></text>
<text x="1825" y="910">E<tspan font-size="21" dy="7">L</tspan></text>
<text x="1971" y="760">Z<tspan font-size="21" dy="7">l</tspan></text>
<text x="2279" y="760">Z<tspan font-size="21" dy="7">l</tspan><tspan font-size="21" dx="-8" dy="-20">c</tspan></text>
<text x="2400" y="908">D<tspan font-size="21" dy="7">L</tspan></text>
<text x="2560" y="933">I<tspan font-size="21" dy="7">l</tspan><tspan font-size="21" dx="-8" dy="-20">rec</tspan></text>
</g>
<g font-style="italic">
<text x="1941" y="680" font-size="26" textLength="234" lengthAdjust="spacingAndGlyphs">Z<tspan font-size="17" dy="6">h</tspan><tspan font-size="17" dx="-9" dy="-16">c</tspan><tspan dy="10"> = arg min ‖Z</tspan><tspan font-size="17" dy="6">h</tspan><tspan dy="-6"> − c</tspan><tspan font-size="17" dy="6">j</tspan><tspan dy="-6">‖</tspan></text>
<text x="2062" y="698" font-size="14" text-anchor="middle">c<tspan font-size="10" dy="3">j</tspan><tspan dy="-3">∈C</tspan><tspan font-size="10" dy="3">h</tspan></text>
<text x="1941" y="924" font-size="26" textLength="234" lengthAdjust="spacingAndGlyphs">Z<tspan font-size="17" dy="6">l</tspan><tspan font-size="17" dx="-5" dy="-16">c</tspan><tspan dy="10"> = arg min ‖Z</tspan><tspan font-size="17" dy="6">l</tspan><tspan dy="-6"> − c</tspan><tspan font-size="17" dy="6">j</tspan><tspan dy="-6">‖</tspan></text>
<text x="2062" y="942" font-size="14" text-anchor="middle">c<tspan font-size="10" dy="3">j</tspan><tspan dy="-3">∈C</tspan><tspan font-size="10" dy="3">l</tspan></text>
</g>
<text x="2123" y="991" text-anchor="middle" font-size="35" textLength="720" lengthAdjust="spacingAndGlyphs">(a) Discrete Codebook Learning Stage (Sec. <tspan fill="#0000ff">3.1</tspan>)</text>

<use href="#hq" x="2791" y="491" width="99" height="98"/>
<use href="#lq" x="2791" y="626" width="99" height="99"/>
<polygon points="2908,497 2981,518 2981,566 2908,585" fill="#c5e0b4" stroke="#6a8f55" stroke-width="1.5"/>
<polygon points="2908,633 2981,653 2981,701 2908,721" fill="#bdd7ee" stroke="#6d8fb5" stroke-width="1.5"/>
<path d="M2981 541H3307M3001 677V876M2981 677H3001" stroke="#000" stroke-width="1.5" fill="none"/>
<g stroke="#000" stroke-width="1.5" marker-end="url(#ms)">
<line x1="3108" y1="541" x2="3108" y2="574"/><line x1="3161" y1="541" x2="3161" y2="574"/><line x1="3210" y1="541" x2="3210" y2="574"/><line x1="3307" y1="541" x2="3307" y2="574"/>
<line x1="3001" y1="677" x2="3015" y2="677"/><line x1="3001" y1="725" x2="3015" y2="725"/><line x1="3001" y1="776" x2="3015" y2="776"/><line x1="3001" y1="876" x2="3015" y2="876"/>
</g>
<g stroke="#000" stroke-width="1.5">
<rect x="3084" y="575" width="50" height="51" fill="#c5e0b4"/><rect x="3134" y="575" width="50" height="51" fill="#c5e0b4"/><rect x="3184" y="575" width="50" height="51" fill="#c5e0b4"/><rect x="3234" y="575" width="50" height="51" fill="#c5e0b4"/><rect x="3284" y="575" width="50" height="51" fill="#c5e0b4"/>
<rect x="3015" y="650" width="49" height="50" fill="#9dc3e6"/><rect x="3015" y="700" width="49" height="50" fill="#9dc3e6"/><rect x="3015" y="750" width="49" height="50" fill="#9dc3e6"/><rect x="3015" y="800" width="49" height="50" fill="#9dc3e6"/><rect x="3015" y="850" width="49" height="51" fill="#9dc3e6"/>
</g>
<g stroke="#000" stroke-width="1.2" fill="#fff">
<rect x="3084" y="650" width="50" height="50" fill="#f8cbad"/><rect x="3134" y="650" width="50" height="50"/><rect x="3184" y="650" width="50" height="50"/><rect x="3234" y="650" width="50" height="50"/><rect x="3284" y="650" width="50" height="50"/>
<rect x="3084" y="700" width="50" height="50"/><rect x="3134" y="700" width="50" height="50" fill="#f8cbad"/><rect x="3184" y="700" width="50" height="50"/><rect x="3234" y="700" width="50" height="50"/><rect x="3284" y="700" width="50" height="50"/>
<rect x="3084" y="750" width="50" height="50"/><rect x="3134" y="750" width="50" height="50"/><rect x="3184" y="750" width="50" height="50" fill="#f8cbad"/><rect x="3234" y="750" width="50" height="50"/><rect x="3284" y="750" width="50" height="50"/>
<rect x="3084" y="800" width="50" height="50"/><rect x="3134" y="800" width="50" height="50"/><rect x="3184" y="800" width="50" height="50"/><rect x="3234" y="800" width="50" height="50" fill="#f8cbad"/><rect x="3284" y="800" width="50" height="50"/>
<rect x="3084" y="850" width="50" height="51"/><rect x="3134" y="850" width="50" height="51"/><rect x="3184" y="850" width="50" height="51"/><rect x="3234" y="850" width="50" height="51"/><rect x="3284" y="850" width="50" height="51" fill="#f8cbad"/>
</g>
<g font-size="19" text-anchor="middle">
<text x="2944" y="539">HQ</text><text x="2944" y="561" textLength="60" lengthAdjust="spacingAndGlyphs">Encoder</text>
<text x="2944" y="673">LQ</text><text x="2944" y="695" textLength="60" lengthAdjust="spacingAndGlyphs">Encoder</text>
<text x="3260" y="562">⋯</text><text x="3005" y="830">⋮</text>
</g>
<g font-size="26" font-style="italic" text-anchor="middle">
<text x="2840" y="622">I<tspan font-size="18" dy="6">h</tspan></text>
<text x="2950" y="610">E<tspan font-size="18" dy="6">H</tspan></text>
<text x="3037" y="526">Z<tspan font-size="18" dy="6">h</tspan></text>
<text x="2840" y="757">I<tspan font-size="18" dy="6">l</tspan></text>
<text x="2944" y="740">E<tspan font-size="18" dy="6">L</tspan></text>
<text x="2968" y="802">Z<tspan font-size="18" dy="6">l</tspan></text>
<text x="3109" y="606" font-size="24">P<tspan font-size="15" dy="7">1</tspan><tspan font-size="15" dx="-8" dy="-19">H</tspan></text>
<text x="3159" y="606" font-size="24">P<tspan font-size="15" dy="7">2</tspan><tspan font-size="15" dx="-8" dy="-19">H</tspan></text>
<text x="3209" y="606" font-size="24">P<tspan font-size="15" dy="7">3</tspan><tspan font-size="15" dx="-8" dy="-19">H</tspan></text>
<text x="3259" y="606" font-size="24" font-style="normal">⋯</text>
<text x="3309" y="606" font-size="24">P<tspan font-size="15" dy="7">N</tspan><tspan font-size="15" dx="-10" dy="-19">H</tspan></text>
<text x="3039" y="681" font-size="24">P<tspan font-size="15" dy="7">1</tspan><tspan font-size="15" dx="-8" dy="-19">L</tspan></text>
<text x="3039" y="731" font-size="24">P<tspan font-size="15" dy="7">2</tspan><tspan font-size="15" dx="-8" dy="-19">L</tspan></text>
<text x="3039" y="781" font-size="24">P<tspan font-size="15" dy="7">3</tspan><tspan font-size="15" dx="-8" dy="-19">L</tspan></text>
<text x="3039" y="831" font-size="24" font-style="normal">⋮</text>
<text x="3039" y="882" font-size="24">P<tspan font-size="15" dy="7">N</tspan><tspan font-size="15" dx="-10" dy="-19">L</tspan></text>
<text x="3207" y="937" font-size="38">M<tspan font-size="24" dy="9">assoc</tspan></text>
</g>
<g font-size="13" font-style="italic" text-anchor="middle">
<text x="3109" y="680">P₁ᴴ·P₁ᴸ</text><text x="3159" y="680">P₂ᴴ·P₁ᴸ</text><text x="3209" y="680">P₃ᴴ·P₁ᴸ</text><text x="3259" y="680" font-style="normal">⋯</text><text x="3309" y="680">Pɴᴴ·P₁ᴸ</text>
<text x="3109" y="730">P₁ᴴ·P₂ᴸ</text><text x="3159" y="730">P₂ᴴ·P₂ᴸ</text><text x="3209" y="730">P₃ᴴ·P₂ᴸ</text><text x="3259" y="730" font-style="normal">⋯</text><text x="3309" y="730">Pɴᴴ·P₂ᴸ</text>
<text x="3109" y="780">P₁ᴴ·P₃ᴸ</text><text x="3159" y="780">P₂ᴴ·P₃ᴸ</text><text x="3209" y="780">P₃ᴴ·P₃ᴸ</text><text x="3259" y="780" font-style="normal">⋯</text><text x="3309" y="780">Pɴᴴ·P₃ᴸ</text>
<text x="3109" y="830" font-size="20" font-style="normal">⋮</text><text x="3159" y="830" font-size="20" font-style="normal">⋮</text><text x="3209" y="830" font-size="20" font-style="normal">⋮</text><text x="3259" y="830" font-size="20" font-style="normal">⋱</text><text x="3309" y="830" font-size="20" font-style="normal">⋮</text>
<text x="3109" y="880">P₁ᴴ·Pɴᴸ</text><text x="3159" y="880">P₂ᴴ·Pɴᴸ</text><text x="3209" y="880">P₃ᴴ·Pɴᴸ</text><text x="3259" y="880" font-style="normal">⋯</text><text x="3309" y="880">Pɴᴴ·Pɴᴸ</text>
</g>
<text x="3091" y="991" text-anchor="middle" font-size="35" textLength="468" lengthAdjust="spacingAndGlyphs">(b) Association Stage (Sec. <tspan fill="#0000ff">3.2</tspan>)</text>

<use href="#lq" x="1596" y="1190" width="166" height="163"/>
<polygon points="1813,1097 1928,1123 1928,1208 1813,1234" fill="#a9d18e" stroke="#507e32" stroke-width="2"/>
<polygon points="1813,1315 1928,1342 1928,1425 1813,1452" fill="#9dc3e6" stroke="#41719c" stroke-width="2"/>
<use href="#cubeG" x="1967" y="1110" width="93" height="96"/>
<use href="#cubeG" x="1961" y="1330" width="93" height="95"/>
<rect x="2083" y="1198" width="131" height="128" rx="25" fill="#fff" stroke="#4472c4" stroke-width="2"/>
<use href="#cubeG" x="2248" y="1208" width="93" height="95"/>
<use href="#tok"/><use href="#tok" y="42"/><use href="#tok" y="84"/><use href="#tok" y="126"/><use href="#tok" y="168"/><use href="#tok" y="210"/><use href="#tok" y="252"/><use href="#tok" y="294"/>
<rect x="2509" y="1129" width="101" height="284" fill="#fff" stroke="#4472c4" stroke-width="2.5"/>
<g fill="#fff" stroke="#000" stroke-width="1.5">
<rect x="2641" y="1092" width="32" height="32"/><rect x="2641" y="1139" width="32" height="33"/><rect x="2641" y="1186" width="32" height="33"/><rect x="2641" y="1234" width="32" height="32"/><rect x="2641" y="1281" width="32" height="32"/><rect x="2641" y="1328" width="32" height="33"/><rect x="2641" y="1376" width="32" height="32"/><rect x="2641" y="1423" width="32" height="32"/>
</g>
<rect x="2765" y="1201" width="136" height="131" fill="#fff" stroke="#4472c4" stroke-width="4"/>
<use href="#cbH" x="2786" y="1235" width="94" height="82"/>
<use href="#cubeH" x="2942" y="1223" width="93" height="94"/>
<polygon points="3064,1234 3181,1207 3181,1347 3064,1318" fill="#c5e0b4" stroke="#4472c4" stroke-width="4"/>
<use href="#hq" x="3191" y="1194" width="164" height="164"/>
<g stroke="#000" stroke-width="4" marker-end="url(#m)">
<line x1="1778" y1="1212" x2="1800" y2="1212"/><line x1="1778" y1="1338" x2="1800" y2="1338"/>
<line x1="1937" y1="1164" x2="1960" y2="1164"/><line x1="1935" y1="1383" x2="1958" y2="1383"/>
<line x1="2058" y1="1190" x2="2080" y2="1210"/><line x1="2058" y1="1340" x2="2082" y2="1320"/>
<line x1="2219" y1="1263" x2="2243" y2="1263"/>
<line x1="2910" y1="1273" x2="2933" y2="1273"/><line x1="3040" y1="1277" x2="3062" y2="1277"/>
</g>
<g stroke="#000" stroke-width="6" marker-end="url(#mb)">
<line x1="2350" y1="1259" x2="2426" y2="1259"/><line x1="2685" y1="1276" x2="2758" y2="1276"/>
</g>
<g text-anchor="middle" font-size="28">
<text x="1870" y="1160">HQ</text><text x="1870" y="1192" textLength="92" lengthAdjust="spacingAndGlyphs">Encoder</text>
<text x="1870" y="1378">LQ</text><text x="1870" y="1410" textLength="92" lengthAdjust="spacingAndGlyphs">Encoder</text>
<text x="3125" y="1271">HQ</text><text x="3125" y="1303" textLength="92" lengthAdjust="spacingAndGlyphs">Decoder</text>
<text x="2149" y="1232" font-size="21" textLength="97" lengthAdjust="spacingAndGlyphs">Multi-Head</text>
<text x="2149" y="1256" font-size="21">Cross</text>
<text x="2149" y="1281" font-size="21" textLength="78" lengthAdjust="spacingAndGlyphs">Attention</text>
<text x="2149" y="1306" font-size="21">Module</text>
<text x="2149" y="1360" font-size="32" textLength="82" lengthAdjust="spacingAndGlyphs">MHCA</text>
<text x="2387" y="1287" font-size="18" textLength="74" lengthAdjust="spacingAndGlyphs">Flattening</text>
<text x="2562" y="1447" font-size="36">T</text>
<text x="2671" y="1493" font-size="30" textLength="157" lengthAdjust="spacingAndGlyphs">Code index  S</text>
<text x="2833" y="1226" font-size="22">Codebook <tspan font-style="italic">C</tspan><tspan font-size="15" dy="5" font-style="italic">h</tspan></text>
<text x="2517" y="1552" font-size="35" textLength="798" lengthAdjust="spacingAndGlyphs">(c) Feature Fusion &amp; Code Prediction Stage (Sec. <tspan fill="#0000ff">3.3</tspan>)</text>
<text x="3280" y="1533" font-size="23" textLength="141" lengthAdjust="spacingAndGlyphs">Frozen Params.</text>
</g>
<text transform="translate(2546,1272) rotate(90)" text-anchor="middle" font-size="44" textLength="182" lengthAdjust="spacingAndGlyphs">Transformer</text>
<g font-size="15" text-anchor="middle">
<text transform="translate(2652,1108) rotate(90)">84</text><text transform="translate(2652,1155) rotate(90)">1</text><text transform="translate(2652,1202) rotate(90)">17</text><text transform="translate(2652,1250) rotate(90)">19</text><text transform="translate(2652,1297) rotate(90)">95</text><text transform="translate(2652,1344) rotate(90)">3</text><text transform="translate(2652,1392) rotate(90)">31</text><text transform="translate(2652,1439) rotate(90)">50</text>
</g>
<g font-family="DejaVu Sans, sans-serif" text-anchor="middle">
<text x="2833" y="1188" font-size="62">❄</text><text x="3118" y="1188" font-size="62">❄</text><text x="3169" y="1543" font-size="46">❄</text>
</g>
<g font-size="32" font-style="italic" text-anchor="middle">
<text x="1679" y="1390">I<tspan font-size="21" dy="7">l</tspan></text>
<text x="1872" y="1265">E<tspan font-size="21" dy="7">H</tspan><tspan font-size="21" dx="-12" dy="-20">A</tspan></text>
<text x="1872" y="1487">E<tspan font-size="21" dy="7">L</tspan><tspan font-size="21" dx="-12" dy="-20">A</tspan></text>
<text x="2022" y="1098">Z<tspan font-size="21" dy="7">h</tspan><tspan font-size="21" dx="-10" dy="-20">A</tspan></text>
<text x="2015" y="1318">Z<tspan font-size="21" dy="7">l</tspan><tspan font-size="21" dx="-7" dy="-20">A</tspan></text>
<text x="2309" y="1196">Z<tspan font-size="21" dy="7">f</tspan><tspan font-size="21" dx="-8" dy="-20">A</tspan></text>
<text x="2453" y="1493">Z<tspan font-size="21" dy="7">f</tspan><tspan font-size="21" dx="-8" dy="-20">A</tspan></text>
<text x="3003" y="1210">Z<tspan font-size="21" dy="7">f</tspan><tspan font-size="21" dx="-8" dy="-20">c</tspan></text>
<text x="3117" y="1362">D<tspan font-size="21" dy="7">H</tspan></text>
<text x="3275" y="1393">I<tspan font-size="21" dy="7">res</tspan></text>
</g>
</g>

<!-- ================= TABLE 1 ================= -->
<g font-family="Liberation Serif, serif" font-size="29">
<path d="M3421 456H4549M3421 827H4549" stroke="#000" stroke-width="3"/>
<path d="M3421 507H4549" stroke="#000" stroke-width="2"/>
<path d="M3658 467V500M4060 467V500M4292 467V500M3658 517V819M4060 517V819M4292 517V819" stroke="#000" stroke-width="1.5"/>
<text x="3441" y="490">Methods</text>
<text y="490" text-anchor="middle"><tspan x="3727">FID↓</tspan><tspan x="3863">LPIPS↓</tspan><tspan x="3995">NIQE↓</tspan><tspan x="4114">IDA↓</tspan><tspan x="4230">LMD↓</tspan><tspan x="4359">PSNR↑</tspan><tspan x="4487">SSIM↑</tspan></text>
<g>
<text x="3441" y="540">Input</text><text x="3441" y="573">PSFRGAN</text><text x="3441" y="607">GFP-GAN</text><text x="3441" y="641">GPEN</text><text x="3441" y="674">RestoreFormer</text><text x="3441" y="708">CodeFormer</text><text x="3441" y="742">VQFR</text><text x="3441" y="775">DR2</text><text x="3441" y="808" font-weight="bold">DAEFR (Ours)</text>
</g>
<g text-anchor="middle">
<text y="540"><tspan x="3727">337.013</tspan><tspan x="3863">0.528</tspan><tspan x="3995">19.287</tspan><tspan x="4114">1.426</tspan><tspan x="4230">17.016</tspan><tspan x="4359">20.833</tspan><tspan x="4487">0.638</tspan></text>
<text y="573"><tspan x="3727">66.367</tspan><tspan x="3863">0.450</tspan><tspan x="3995" fill="#00f">3.811</tspan><tspan x="4114">1.260</tspan><tspan x="4230">7.713</tspan><tspan x="4359">20.303</tspan><tspan x="4487">0.536</tspan></text>
<text y="607"><tspan x="3727" fill="#f00">46.130</tspan><tspan x="3863">0.453</tspan><tspan x="3995">4.061</tspan><tspan x="4114">1.268</tspan><tspan x="4230">9.501</tspan><tspan x="4359">19.574</tspan><tspan x="4487">0.522</tspan></text>
<text y="641"><tspan x="3727">55.308</tspan><tspan x="3863">0.425</tspan><tspan x="3995">3.913</tspan><tspan x="4114">1.141</tspan><tspan x="4230">7.259</tspan><tspan x="4359" fill="#00f">20.545</tspan><tspan x="4487">0.552</tspan></text>
<text y="674"><tspan x="3727">54.395</tspan><tspan x="3863">0.467</tspan><tspan x="3995">4.013</tspan><tspan x="4114">1.231</tspan><tspan x="4230">8.883</tspan><tspan x="4359">20.146</tspan><tspan x="4487">0.494</tspan></text>
<text y="708"><tspan x="3727">62.021</tspan><tspan x="3863" fill="#f00">0.365</tspan><tspan x="3995">4.570</tspan><tspan x="4114" fill="#f00">1.049</tspan><tspan x="4230" fill="#f00">5.381</tspan><tspan x="4359" fill="#f00">21.449</tspan><tspan x="4487" fill="#00f">0.575</tspan></text>
<text y="742"><tspan x="3727">54.010</tspan><tspan x="3863">0.456</tspan><tspan x="3995" fill="#f00">3.328</tspan><tspan x="4114">1.237</tspan><tspan x="4230">9.128</tspan><tspan x="4359">19.484</tspan><tspan x="4487">0.472</tspan></text>
<text y="775"><tspan x="3727">63.675</tspan><tspan x="3863">0.409</tspan><tspan x="3995">5.104</tspan><tspan x="4114">1.215</tspan><tspan x="4230">7.890</tspan><tspan x="4359">20.327</tspan><tspan x="4487" fill="#f00">0.595</tspan></text>
<text y="808"><tspan x="3727" fill="#00f">52.056</tspan><tspan x="3863" fill="#00f">0.388</tspan><tspan x="3995">4.477</tspan><tspan x="4114" fill="#00f">1.071</tspan><tspan x="4230" fill="#00f">5.634</tspan><tspan x="4359">19.919</tspan><tspan x="4487">0.553</tspan></text>
</g>
</g>

<!-- ================= TABLE 2 ================= -->
<g font-family="Liberation Serif, serif" font-size="31">
<path d="M3425 917H4547M3425 1352H4547" stroke="#000" stroke-width="3"/>
<path d="M3425 1008H4547" stroke="#000" stroke-width="2"/>
<path d="M3681 928V1000M3970 928V1000M4259 928V1000M3681 1020V1345M3970 1020V1345M4259 1020V1345" stroke="#000" stroke-width="1.5"/>
<text x="3658" y="953" text-anchor="end">Dataset</text>
<text x="3447" y="989">Methods</text>
<text y="953" text-anchor="middle" font-weight="bold"><tspan x="3825">LFW-Test</tspan><tspan x="4114">WIDER-Test</tspan><tspan x="4404">BRIAR-Test</tspan></text>
<text y="989" text-anchor="middle"><tspan x="3756">FID↓</tspan><tspan x="3899">NIQE↓</tspan><tspan x="4046">FID↓</tspan><tspan x="4189">NIQE↓</tspan><tspan x="4334">FID↓</tspan><tspan x="4478">NIQE↓</tspan></text>
<g>
<text x="3447" y="1043">Input</text><text x="3447" y="1080">PSFRGAN</text><text x="3447" y="1116">GFP-GAN</text><text x="3447" y="1152">GPEN</text><text x="3447" y="1188">RestoreFormer</text><text x="3447" y="1225">CodeFormer</text><text x="3447" y="1261">VQFR</text><text x="3447" y="1297">DR2</text><text x="3447" y="1333" font-weight="bold">DAEFR (Ours)</text>
</g>
<g text-anchor="middle">
<text y="1043"><tspan x="3756">137.587</tspan><tspan x="3899">11.003</tspan><tspan x="4046">199.972</tspan><tspan x="4189">13.498</tspan><tspan x="4334">201.061</tspan><tspan x="4478">10.784</tspan></text>
<text y="1080"><tspan x="3756">49.551</tspan><tspan x="3899">4.094</tspan><tspan x="4046">49.857</tspan><tspan x="4189">4.033</tspan><tspan x="4334">196.774</tspan><tspan x="4478" fill="#f00">3.979</tspan></text>
<text y="1116"><tspan x="3756">50.057</tspan><tspan x="3899">3.966</tspan><tspan x="4046">39.730</tspan><tspan x="4189">3.885</tspan><tspan x="4334">97.360</tspan><tspan x="4478">5.281</tspan></text>
<text y="1152"><tspan x="3756">51.942</tspan><tspan x="3899">3.902</tspan><tspan x="4046">46.359</tspan><tspan x="4189">4.104</tspan><tspan x="4334" fill="#00f">91.653</tspan><tspan x="4478">5.166</tspan></text>
<text y="1188"><tspan x="3756">48.412</tspan><tspan x="3899">4.168</tspan><tspan x="4046">49.839</tspan><tspan x="4189">3.894</tspan><tspan x="4334">107.654</tspan><tspan x="4478">5.064</tspan></text>
<text y="1225"><tspan x="3756">52.350</tspan><tspan x="3899">4.482</tspan><tspan x="4046" fill="#00f">38.798</tspan><tspan x="4189">4.164</tspan><tspan x="4334">98.134</tspan><tspan x="4478">5.018</tspan></text>
<text y="1261"><tspan x="3756">50.712</tspan><tspan x="3899" fill="#00f">3.589</tspan><tspan x="4046">44.158</tspan><tspan x="4189" fill="#f00">3.054</tspan><tspan x="4334">92.072</tspan><tspan x="4478">4.970</tspan></text>
<text y="1297"><tspan x="3756" fill="#f00">46.550</tspan><tspan x="3899">5.150</tspan><tspan x="4046">45.726</tspan><tspan x="4189">5.188</tspan><tspan x="4334">96.968</tspan><tspan x="4478">5.417</tspan></text>
<text y="1333"><tspan x="3756" fill="#00f">47.532</tspan><tspan x="3899" fill="#f00">3.552</tspan><tspan x="4046" fill="#f00">36.720</tspan><tspan x="4189" fill="#00f">3.655</tspan><tspan x="4334" fill="#f00">90.032</tspan><tspan x="4478" fill="#00f">4.649</tspan></text>
</g>
</g>

<!-- ================= CELEBA GRID ================= -->
<g>
<use href="#cA" x="3421" y="1440" width="149" height="149" filter="url(#bl2)"/>
<use href="#cA" x="3581" y="1440" width="149" height="149"/><use href="#cA" x="3744" y="1440" width="149" height="149"/><use href="#cA" x="3906" y="1440" width="150" height="149"/><use href="#cA" x="4070" y="1440" width="149" height="149"/><use href="#cA" x="4235" y="1440" width="150" height="149"/><use href="#cA" x="4398" y="1440" width="150" height="149"/>
<use href="#cB" x="3421" y="1604" width="149" height="150" filter="url(#bl2)"/>
<use href="#cB" x="3581" y="1604" width="149" height="150"/><use href="#cB" x="3744" y="1604" width="149" height="150"/><use href="#cB" x="3906" y="1604" width="150" height="150"/><use href="#cB" x="4070" y="1604" width="149" height="150"/><use href="#cB" x="4235" y="1604" width="150" height="150"/><use href="#cB" x="4398" y="1604" width="150" height="150"/>
<use href="#cC" x="3421" y="1770" width="149" height="150" filter="url(#bl2)"/>
<use href="#cC" x="3581" y="1770" width="149" height="150"/><use href="#cC" x="3744" y="1770" width="149" height="150"/><use href="#cC" x="3906" y="1770" width="150" height="150"/><use href="#cC" x="4070" y="1770" width="149" height="150"/><use href="#cC" x="4235" y="1770" width="150" height="150"/><use href="#cC" x="4398" y="1770" width="150" height="150"/>
</g>
<g font-family="Liberation Serif, serif" font-size="24" text-anchor="middle">
<text y="1946"><tspan x="3495">Input</tspan><tspan x="3655">RestoreFormer</tspan><tspan x="3818">CodeFormer</tspan><tspan x="3981">VQFR</tspan><tspan x="4144">DR2</tspan><tspan x="4310" font-weight="bold">DAEFR (Ours)</tspan><tspan x="4473">GT</tspan></text>
<text y="2524"><tspan x="3515">Input</tspan><tspan x="3673">GFP-GAN</tspan><tspan x="3832">RestoreFormer</tspan><tspan x="3991">CodeFormer</tspan><tspan x="4150">VQFR</tspan><tspan x="4309">DR2</tspan><tspan x="4472" font-weight="bold">DAEFR (Ours)</tspan></text>
<text transform="translate(3437,2102) rotate(-90)">LFW-Test</text>
<text transform="translate(3437,2262) rotate(-90)">WIDER-Test</text>
<text transform="translate(3437,2425) rotate(-90)">BRIAR-Test</text>
</g>

<!-- ================= REAL-WORLD GRID ================= -->
<g>
<use href="#rA" x="3443" y="2030" width="145" height="146" filter="url(#bl2)"/>
<use href="#rA" x="3601" y="2030" width="145" height="146"/><use href="#rA" x="3759" y="2030" width="146" height="146"/><use href="#rA" x="3919" y="2030" width="145" height="146"/><use href="#rA" x="4077" y="2030" width="146" height="146"/><use href="#rA" x="4236" y="2030" width="146" height="146"/><use href="#rA" x="4400" y="2030" width="145" height="146"/>
<use href="#rB" x="3443" y="2191" width="145" height="146" filter="url(#bl2)"/>
<use href="#rB" x="3601" y="2191" width="145" height="146"/><use href="#rB" x="3759" y="2191" width="146" height="146"/><use href="#rB" x="3919" y="2191" width="145" height="146"/><use href="#rB" x="4077" y="2191" width="146" height="146"/><use href="#rB" x="4236" y="2191" width="146" height="146"/><use href="#rB" x="4400" y="2191" width="145" height="146"/>
<use href="#rC" x="3443" y="2352" width="145" height="146" filter="url(#bl2)"/>
<use href="#rC" x="3601" y="2352" width="145" height="146"/><use href="#rC" x="3759" y="2352" width="146" height="146"/><use href="#rC" x="3919" y="2352" width="145" height="146"/><use href="#rC" x="4077" y="2352" width="146" height="146"/><use href="#rC" x="4236" y="2352" width="146" height="146"/><use href="#rC" x="4400" y="2352" width="145" height="146"/>
</g>
</svg>
</body></html>
